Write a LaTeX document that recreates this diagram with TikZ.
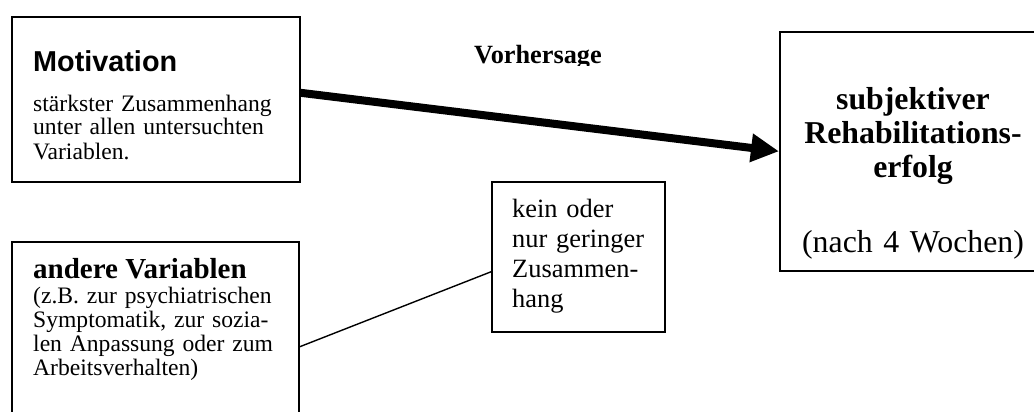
\documentclass[tikz,border=0pt]{standalone}
\usepackage{fontspec}
\setmainfont{Liberation Serif}
\newfontfamily\arialfont{Liberation Sans}
\usepackage{tikz}
\usetikzlibrary{calc,positioning,arrows.meta}

\begin{document}
\begin{tikzpicture}[x=1pt, y=-1pt,
  box/.style={draw, line width=1.6pt, inner sep=0pt, anchor=north west},
  txt/.style={anchor=base west, inner sep=0pt, align=left},
  small/.style={font=\fontsize{23.6}{24}\selectfont}]
  \useasboundingbox (0,0) rectangle (1034,412);
  \clip (0,0) rectangle (1034,412);

  % Boxes (the last one and the lower left one run off the page)
  \node[box, minimum width=288pt, minimum height=165pt] (motiv) at (11,16) {};
  \node[box, minimum width=287pt, minimum height=210pt] (andere) at (11,241) {};
  \node[box, minimum width=173pt, minimum height=150pt] (kein) at (491,181) {};
  \node[box, minimum width=280pt, minimum height=239pt] (erfolg) at (779,31) {};

  % Texts inside
  \node[txt, font=\arialfont\bfseries\fontsize{28.8}{30}\selectfont] (motivtitle)
    at ([shift={(22,55)}]motiv.north west) {Motivation};
  \node[txt, small, text width=270pt] (motivtext) at ([shift={(22,95)}]motiv.north west)
    {stärkster Zusammenhang\\unter allen untersuchten\\Variablen.};
  \node[txt, font=\bfseries\fontsize{29}{30}\selectfont] (anderetitle)
    at ([shift={(22,37)}]andere.north west) {andere Variablen};
  \node[txt, small, text width=270pt] (anderetext) at ([shift={(22,62)}]andere.north west)
    {(z.B. zur psychiatrischen\\Symptomatik, zur sozia-\\len Anpassung oder zum\\Arbeitsverhalten)};
  \node[txt, text width=150pt, font=\fontsize{26.4}{30}\selectfont] (keintext)
    at ([shift={(21,36)}]kein.north west) {kein oder\\nur geringer\\Zusammen-\\hang};
  \node[txt, anchor=base, align=center, text width=240pt, font=\fontsize{31.8}{34}\selectfont] (erfolgtext)
    at ([shift={(134,79)}]erfolg.north west)
    {\bfseries subjektiver\\Rehabilitations-\\erfolg\\[41pt]\mdseries (nach 4 Wochen)};

  % Label, cut off below the baseline
  \begin{scope}
    \clip (400,0) rectangle (700,66);
    \node[txt, font=\bfseries\fontsize{26.3}{28}\selectfont] (vorhersage) at (474,64) {Vorhersage};
  \end{scope}

  % Connectors
  \draw[line width=8pt, -{Triangle[length=28pt, width=27pt]}] ([yshift=6.5pt]motiv.east) -- (erfolg.west);
  \draw[line width=1.4pt] (andere.east) -- ([yshift=-15pt]kein.west);
\end{tikzpicture}
\end{document}
